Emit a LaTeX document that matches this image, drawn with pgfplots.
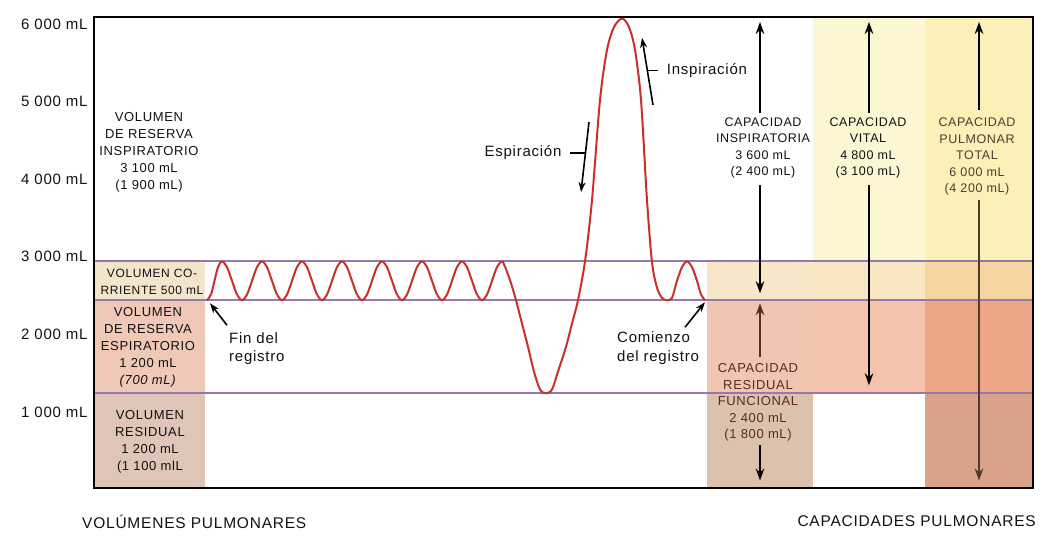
\documentclass[border=0pt]{standalone}
\usepackage{fontspec}
\setmainfont{Liberation Sans}[LetterSpace=5]
\usepackage{pgfplots}
\pgfplotsset{compat=1.18}
\usetikzlibrary{arrows.meta}

\definecolor{cream}{HTML}{F3E5CB}
\definecolor{pinkL}{HTML}{EFC8B7}
\definecolor{tanL}{HTML}{DFC5B7}
\definecolor{creamC}{HTML}{F7E7C8}
\definecolor{pinkC}{HTML}{F2C5B1}
\definecolor{tanC}{HTML}{DCC1AD}
\definecolor{yelV}{HTML}{FCF6D2}
\definecolor{creamV}{HTML}{F9E6C2}
\definecolor{pinkV}{HTML}{F3C3AE}
\definecolor{yelT}{HTML}{FAF0B8}
\definecolor{orT}{HTML}{F6D5A0}
\definecolor{salT}{HTML}{EEA487}
\definecolor{brT}{HTML}{D9A28B}
\definecolor{lineP}{HTML}{9679A6}
\definecolor{curve}{HTML}{C9302C}
\definecolor{maroon}{HTML}{5B2B22}
\definecolor{brtxt}{HTML}{4E3B2E}
\definecolor{txt}{HTML}{111111}

\newcommand\lblfont{\fontsize{13}{17}\selectfont}
\newcommand\capfont{\fontsize{12.5}{16.5}\selectfont}
\newcommand\annfont{\fontsize{15}{18.5}\selectfont}

\tikzset{arr/.style={-{Stealth[length=12pt,width=8.5pt]}, line width=2.1pt}}

\begin{document}
\begin{tikzpicture}
\useasboundingbox (0,0) rectangle (1063pt,544pt);
\begin{axis}[
  at={(94pt,56pt)}, anchor=south west,
  scale only axis, width=939pt, height=471pt,
  xmin=94, xmax=1033, ymin=-20, ymax=6050,
  xtick=\empty,
  ytick={1000,2000,3000,4000,5000,6000},
  yticklabels={1 000 mL,2 000 mL,3 000 mL,4 000 mL,5 000 mL,6 000 mL},
  major tick length=0pt,
  yticklabel style={font=\fontsize{15}{18}\selectfont, text=txt, xshift=-3pt, yshift=-3pt},
  axis line style={line width=1.6pt},
  clip=false, axis on top,
]
% ---------- coloured blocks ----------
\addplot[fill=cream, draw=none] coordinates {(94,2400)(205,2400)(205,2900)(94,2900)} -- cycle;
\addplot[fill=pinkL, draw=none] coordinates {(94,1200)(205,1200)(205,2400)(94,2400)} -- cycle;
\addplot[fill=tanL, draw=none] coordinates {(94,-20)(205,-20)(205,1200)(94,1200)} -- cycle;
\addplot[fill=creamC, draw=none] coordinates {(707,2400)(813,2400)(813,2900)(707,2900)} -- cycle;
\addplot[fill=pinkC, draw=none] coordinates {(707,1200)(813,1200)(813,2400)(707,2400)} -- cycle;
\addplot[fill=tanC, draw=none] coordinates {(707,-20)(813,-20)(813,1200)(707,1200)} -- cycle;
\addplot[fill=yelV, draw=none] coordinates {(813,2900)(925,2900)(925,6050)(813,6050)} -- cycle;
\addplot[fill=creamV, draw=none] coordinates {(813,2400)(925,2400)(925,2900)(813,2900)} -- cycle;
\addplot[fill=pinkV, draw=none] coordinates {(813,1200)(925,1200)(925,2400)(813,2400)} -- cycle;
\addplot[fill=yelT, draw=none] coordinates {(925,2900)(1033,2900)(1033,6050)(925,6050)} -- cycle;
\addplot[fill=orT, draw=none] coordinates {(925,2400)(1033,2400)(1033,2900)(925,2900)} -- cycle;
\addplot[fill=salT, draw=none] coordinates {(925,1200)(1033,1200)(1033,2400)(925,2400)} -- cycle;
\addplot[fill=brT, draw=none] coordinates {(925,-20)(1033,-20)(1033,1200)(925,1200)} -- cycle;

% ---------- level lines ----------
\addplot[lineP, line width=2pt] coordinates {(94,2900)(1033,2900)};
\addplot[lineP, line width=2pt] coordinates {(94,2400)(1033,2400)};
\addplot[lineP, line width=2pt] coordinates {(94,1200)(1033,1200)};

% ---------- spirogram ----------
\addplot[curve, line width=2pt, smooth, tension=0.5] coordinates {
(207,2400)(211,2473)(214.5,2650)(218,2827)(222,2900)
(227,2827)(232,2650)(237,2473)(242,2400)(247,2473)(252,2650)(257,2827)(262,2900)
(267,2827)(272,2650)(277,2473)(282,2400)(287,2473)(292,2650)(297,2827)(302,2900)
(307,2827)(312,2650)(317,2473)(322,2400)(327,2473)(332,2650)(337,2827)(342,2900)
(347,2827)(352,2650)(357,2473)(362,2400)(367,2473)(372,2650)(377,2827)(382,2900)
(387,2827)(392,2650)(397,2473)(402,2400)(407,2473)(412,2650)(417,2827)(422,2900)
(427,2827)(432,2650)(437,2473)(442,2400)(447,2473)(452,2650)(457,2827)(462,2900)
(467,2827)(472,2650)(477,2473)(482,2400)(487,2473)(492,2650)(497,2827)(502,2900)
(506,2800)(511,2620)(516,2400)(522,2100)(528,1800)(534,1480)(540,1250)(546,1200)
(552,1250)(558,1480)(566,1800)(572,2100)(578,2400)(585,2900)(592,3690)(600,4980)
(607,5626)(614,5920)(622,6030)(629,5920)(635,5626)(641,4980)(647,3690)(652,2890)
(657,2560)(662,2430)(667,2400)(672,2430)(677,2650)(682,2827)(687,2900)(692,2827)
(697,2650)(701,2473)(705,2400)
};

% ---------- capacity arrows ----------
\addplot[arr, black] coordinates {(760,4813)(760,5987)};
\addplot[arr, black] coordinates {(760,3884)(760,2490)};
\addplot[arr, maroon] coordinates {(760,1665)(760,2361)};
\addplot[arr, black] coordinates {(760,529)(760,77)};
\addplot[arr, black] coordinates {(869,4813)(869,5987)};
\addplot[arr, black] coordinates {(869,3884)(869,1303)};
\addplot[arr, black] coordinates {(979,4852)(979,5987)};
\addplot[arr, brtxt] coordinates {(979,3690)(979,77)};

% ---------- annotation arrows ----------
\addplot[-{Stealth[length=10pt,width=7pt]}, line width=1.6pt, black] coordinates {(589,4697)(581,3794)};
\addplot[-{Stealth[length=10pt,width=7pt]}, line width=1.6pt, black] coordinates {(653,4916)(642,5781)};
\addplot[black, line width=1.1pt] coordinates {(570,4297)(585,4297)};
\addplot[black, line width=1.1pt] coordinates {(647,5355)(658,5355)};
\addplot[-{Stealth[length=10pt,width=7pt]}, line width=1.6pt, black] coordinates {(227,2077)(210,2361)};
\addplot[-{Stealth[length=10pt,width=7pt]}, line width=1.6pt, black] coordinates {(685,2052)(705,2374)};

% ---------- texts ----------
\node[align=center, font=\lblfont, text=txt, inner sep=0pt] at (axis cs:149,4310)
  {VOLUMEN\\DE RESERVA\\INSPIRATORIO\\3 100 mL\\(1 900 mL)};
\node[align=center, font=\fontsize{12}{16.5}\selectfont, text=txt, inner sep=0pt] at (axis cs:152,2639)
  {VOLUMEN CO-\\RRIENTE 500 mL};
\node[align=center, font=\lblfont, text=txt, inner sep=0pt] at (axis cs:148,1794)
  {VOLUMEN\\DE RESERVA\\ESPIRATORIO\\1 200 mL\\\textit{(700 mL)}};
\node[align=center, font=\lblfont, text=txt, inner sep=0pt] at (axis cs:150,574)
  {VOLUMEN\\RESIDUAL\\1 200 mL\\(1 100 mlL};
\node[align=center, font=\capfont, text=txt, inner sep=0pt] at (axis cs:763,4361)
  {CAPACIDAD\\INSPIRATORIA\\3 600 mL\\(2 400 mL)};
\node[align=center, font=\capfont, text=txt, inner sep=0pt] at (axis cs:868,4361)
  {CAPACIDAD\\VITAL\\4 800 mL\\(3 100 mL)};
\node[align=center, font=\capfont, text=brtxt, inner sep=0pt] at (axis cs:977,4252)
  {CAPACIDAD\\PULMONAR\\TOTAL\\6 000 mL\\(4 200 mL)};
\node[align=center, font=\fontsize{13}{16.5}\selectfont, text=maroon, inner sep=0pt] at (axis cs:758,1084)
  {CAPACIDAD\\RESIDUAL\\FUNCIONAL\\2 400 mL\\(1 800 mL)};
\node[font=\annfont, text=txt, inner sep=0pt] at (axis cs:523,4297) {Espiración};
\node[font=\annfont, text=txt, inner sep=0pt] at (axis cs:707,5355) {Inspiración};
\node[align=left, anchor=west, font=\annfont, text=txt, inner sep=0pt] at (axis cs:229,1774)
  {Fin del\\registro};
\node[align=left, anchor=west, font=\annfont, text=txt, inner sep=0pt] at (axis cs:617,1781)
  {Comienzo\\del registro};
\node[anchor=west, font=\fontsize{15.5}{18}\selectfont, text=txt, inner sep=0pt] at (axis cs:82,-452)
  {VOLÚMENES PULMONARES};
\node[anchor=east, font=\fontsize{15.5}{18}\selectfont, text=txt, inner sep=0pt] at (axis cs:1036,-452)
  {CAPACIDADES PULMONARES};
\end{axis}
\end{tikzpicture}
\end{document}
